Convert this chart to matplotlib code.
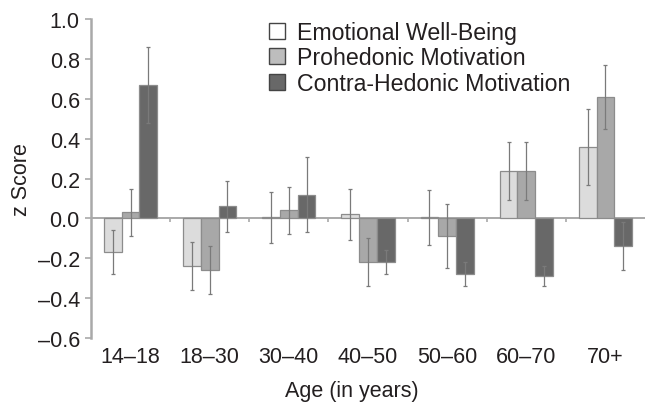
import matplotlib.pyplot as plt
from matplotlib.patches import Patch
import numpy as np

plt.rcParams['font.family'] = ['Liberation Sans', 'DejaVu Sans']

# data
ages = ['14–18', '18–30', '30–40', '40–50', '50–60', '60–70', '70+']
series = ['Emotional Well-Being', 'Prohedonic Motivation', 'Contra-Hedonic Motivation']
wellbeing = [-0.17, -0.24, 0.005, 0.02, 0.005, 0.24, 0.36]
wellbeing_err = [0.11, 0.12, 0.13, 0.13, 0.14, 0.145, 0.19]
prohedonic = [0.03, -0.26, 0.04, -0.22, -0.09, 0.24, 0.61]
prohedonic_err = [0.12, 0.12, 0.12, 0.12, 0.16, 0.145, 0.16]
contrahedonic = [0.67, 0.06, 0.12, -0.22, -0.28, -0.29, -0.14]
contrahedonic_err = [0.19, 0.13, 0.19, 0.06, 0.06, 0.05, 0.12]

values = [wellbeing, prohedonic, contrahedonic]
errors = [wellbeing_err, prohedonic_err, contrahedonic_err]
bar_colors = ['#dcdcdc', '#a8a8a8', '#686868']
legend_colors = ['#ffffff', '#bdbdbd', '#686868']
text_color = '#231f20'
axis_color = '#a9a9a9'

fig = plt.figure(figsize=(6.45, 4.10), dpi=100)
ax = fig.add_axes([0.141, 0.173, 0.859, 0.778])

x = np.arange(len(ages))
w = 0.224
for i in range(3):
    ax.bar(x + (i - 1) * w, values[i], w, color=bar_colors[i],
           edgecolor='#8c8c8c', linewidth=0.9, zorder=2)
    ax.errorbar(x + (i - 1) * w, values[i], yerr=errors[i], fmt='none',
                ecolor='#7a7a7a', elinewidth=0.9, capsize=1.5, capthick=0.9, zorder=3)

# zero line with small separators between age groups
ax.axhline(0, color=axis_color, linewidth=1.4, zorder=1)
ax.vlines(x[:-1] + 0.5, -0.018, 0, color=axis_color, linewidth=1.2, zorder=1)

ax.set_xlim(-0.5, len(ages) - 0.5)
ax.set_ylim(-0.6, 1.0)
ax.set_yticks(np.arange(-0.6, 1.01, 0.2))
ax.set_yticklabels(['–0.6', '–0.4', '–0.2', '0.0', '0.2', '0.4', '0.6', '0.8', '1.0'])
ax.set_xticks(x)
ax.set_xticklabels(ages)

for s in ['top', 'right', 'bottom']:
    ax.spines[s].set_visible(False)
ax.spines['left'].set_color(axis_color)
ax.spines['left'].set_linewidth(1.8)
ax.spines['left'].set_bounds(-0.6, 1.0)

ax.tick_params(axis='y', colors=axis_color, length=4, width=1.2, labelsize=15.5,
               labelcolor=text_color, pad=4)
ax.tick_params(axis='x', length=0, labelsize=15.5, labelcolor=text_color, pad=6)

ax.set_ylabel('z Score', fontsize=15.5, color=text_color, labelpad=4)
ax.set_xlabel('Age (in years)', fontsize=15.5, color=text_color, labelpad=10)
ax.xaxis.set_label_coords(0.47, -0.13)

handles = [Patch(facecolor=legend_colors[i], edgecolor='#444444', linewidth=1.0)
           for i in range(3)]
ax.legend(handles, series, loc='upper left', bbox_to_anchor=(0.30, 1.03),
          frameon=False, fontsize=16.7, handlelength=0.7, handleheight=0.7,
          handletextpad=0.5, labelspacing=0.1, borderpad=0, labelcolor=text_color)

plt.savefig('out.png', dpi=100)
